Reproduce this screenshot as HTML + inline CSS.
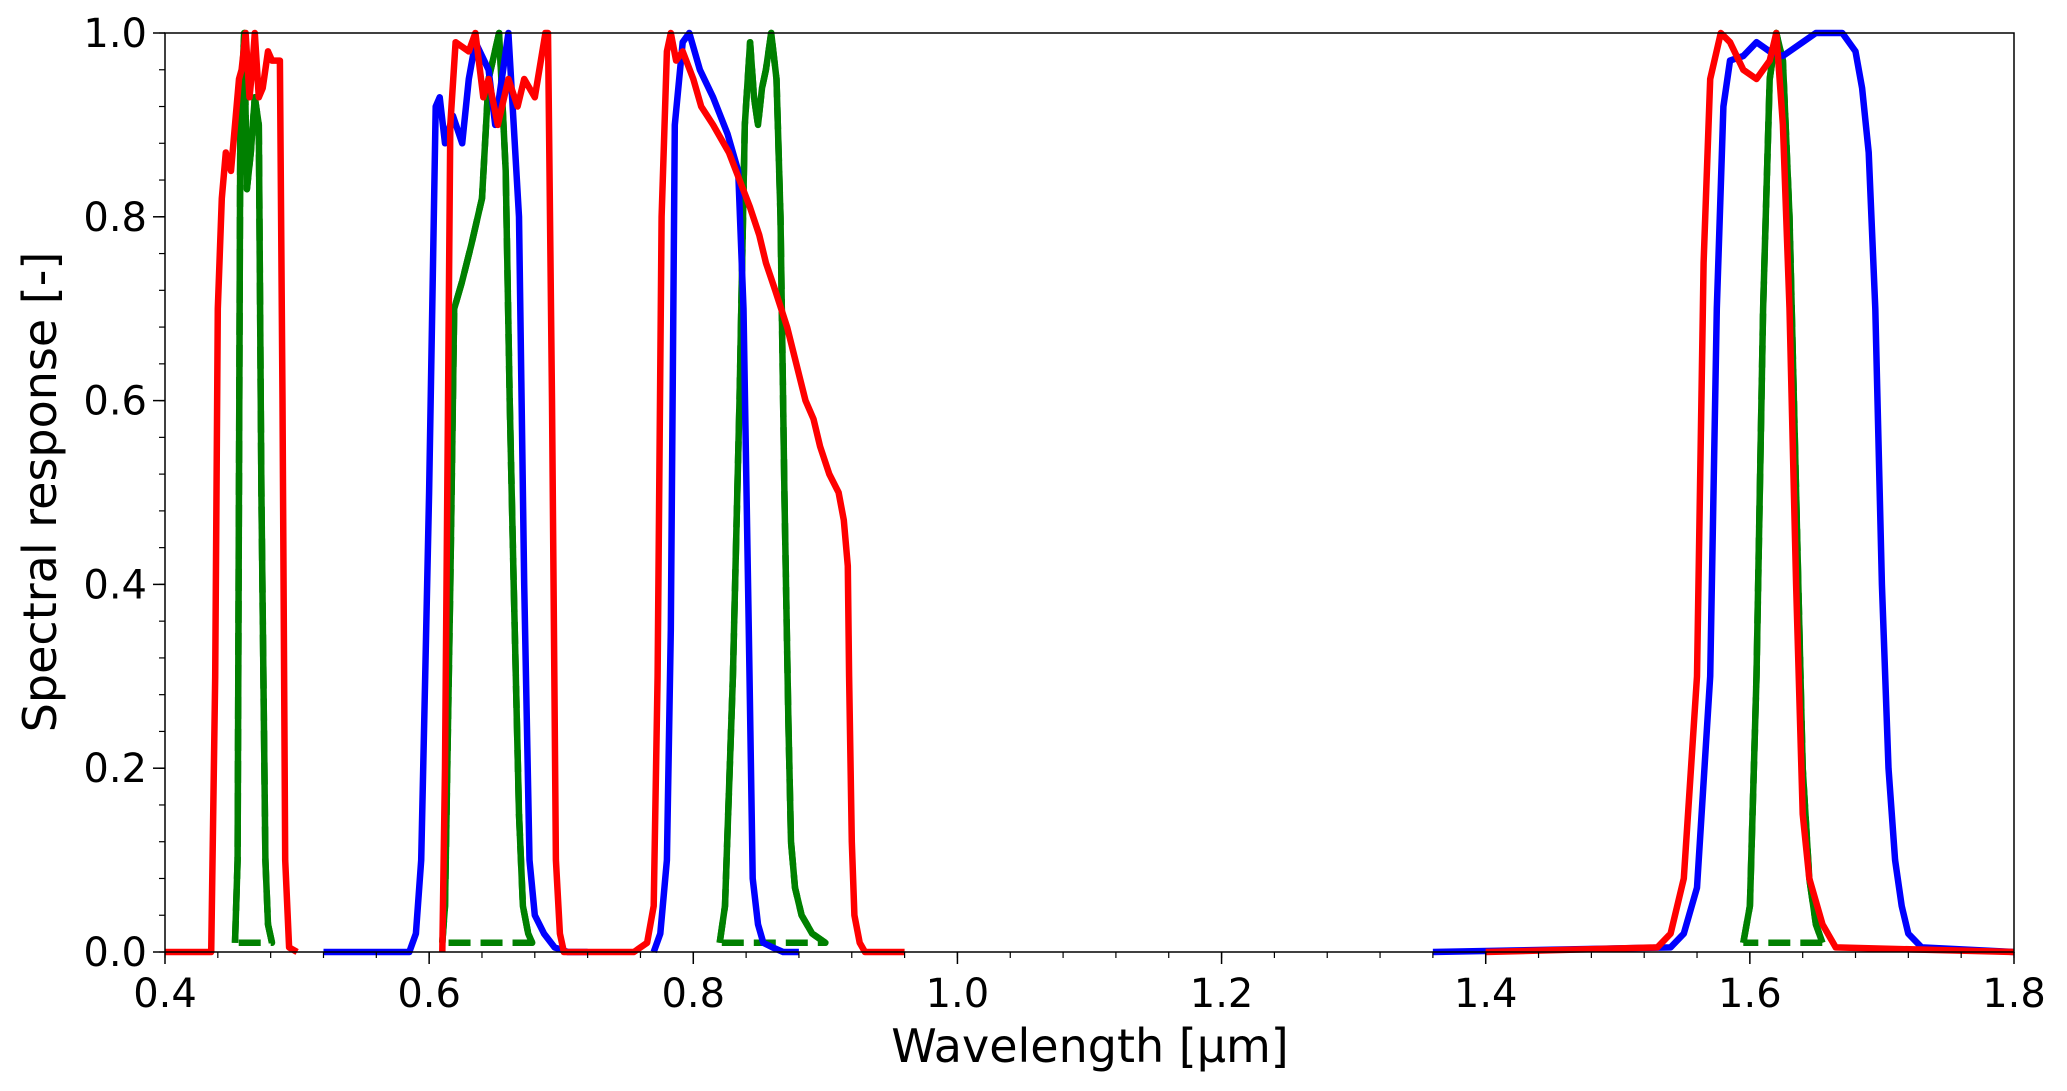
<!DOCTYPE html>
<html><head><meta charset="utf-8"><style>
html,body{margin:0;padding:0;background:#fff;}
svg{display:block;font-family:"DejaVu Sans","Liberation Sans",sans-serif;}
</style></head><body>
<svg id="chart" width="2067" height="1091" viewBox="0 0 2067 1091" xmlns="http://www.w3.org/2000/svg">
<g id="series"></g>
<rect x="165" y="33" width="1849" height="919" fill="none" stroke="#000" stroke-width="1.5"/>
<g id="axes"></g>
<text x="1090" y="1062" font-size="46" text-anchor="middle">Wavelength [µm]</text>
<text transform="translate(56,492) rotate(-90)" font-size="46" text-anchor="middle">Spectral response [-]</text>
</svg>
<script>
const xTicks=[0.4,0.6,0.8,1.0,1.2,1.4,1.6,1.8];
const xTickLabels=["0.4","0.6","0.8","1.0","1.2","1.4","1.6","1.8"];
const yTicks=[0,0.2,0.4,0.6,0.8,1.0];
const yTickLabels=["0.0","0.2","0.4","0.6","0.8","1.0"];
const blueW=[0.52,0.585,0.59,0.594,0.597,0.60,0.605,0.608,0.612,0.618,0.625,0.63,0.635,0.645,0.65,0.655,0.66,0.668,0.672,0.676,0.68,0.687,0.695,0.705,0.72,null,
0.77,0.775,0.78,0.783,0.786,0.792,0.797,0.805,0.815,0.826,0.834,0.838,0.842,0.845,0.849,0.853,0.86,0.868,0.88,null,
1.36,1.54,1.55,1.56,1.57,1.575,1.58,1.585,1.595,1.605,1.615,1.625,1.64,1.65,1.67,1.68,1.685,1.69,1.695,1.70,1.705,1.71,1.715,1.72,1.73,1.8];
const blueV=[0,0,0.02,0.1,0.3,0.5,0.92,0.93,0.88,0.91,0.88,0.95,0.99,0.96,0.9,0.95,1.0,0.8,0.4,0.1,0.04,0.02,0.005,0,0,null,
0,0.02,0.1,0.35,0.9,0.99,1.0,0.96,0.93,0.89,0.85,0.7,0.35,0.08,0.03,0.01,0.005,0,0,null,
0,0.005,0.02,0.07,0.3,0.7,0.92,0.97,0.975,0.99,0.98,0.975,0.99,1.0,1.0,0.98,0.94,0.87,0.7,0.4,0.2,0.1,0.05,0.02,0.005,0];
const redW=[0.4,0.435,0.438,0.44,0.443,0.446,0.45,0.453,0.456,0.458,0.461,0.464,0.466,0.468,0.471,0.474,0.478,0.481,0.484,0.487,0.489,0.491,0.494,0.5,null,
0.61,0.612,0.616,0.62,0.63,0.635,0.641,0.645,0.652,0.66,0.667,0.672,0.68,0.688,0.69,0.693,0.696,0.699,0.702,0.72,0.755,0.765,0.770,0.773,0.776,0.780,0.783,0.787,0.792,0.80,0.806,0.815,0.827,0.835,0.843,0.85,0.855,0.862,0.871,0.878,0.885,0.891,0.896,0.903,0.91,0.914,0.917,0.918,0.92,0.922,0.926,0.93,0.96,null,
1.40,1.53,1.54,1.55,1.56,1.565,1.57,1.578,1.585,1.595,1.605,1.615,1.62,1.625,1.63,1.635,1.64,1.645,1.655,1.665,1.8];
const redV=[0,0,0.3,0.7,0.82,0.87,0.85,0.9,0.95,0.96,1.0,0.93,0.96,1.0,0.93,0.94,0.98,0.97,0.97,0.97,0.6,0.1,0.005,0,null,
0,0.2,0.9,0.99,0.98,1.0,0.93,0.95,0.9,0.95,0.92,0.95,0.93,1.0,1.0,0.6,0.1,0.02,0,0,0,0.01,0.05,0.3,0.8,0.98,1.0,0.97,0.98,0.95,0.92,0.9,0.87,0.84,0.81,0.78,0.75,0.72,0.68,0.64,0.6,0.58,0.55,0.52,0.50,0.47,0.42,0.3,0.12,0.04,0.01,0,0,null,
0,0.005,0.02,0.08,0.3,0.75,0.95,1.0,0.99,0.96,0.95,0.97,1.0,0.9,0.7,0.4,0.15,0.08,0.03,0.005,0];
const greenW=[0.453,0.455,0.457,0.46,0.462,0.465,0.468,0.471,0.473,0.476,0.478,0.481,null,
0.61,0.612,0.616,0.619,0.625,0.632,0.64,0.645,0.653,0.658,0.661,0.664,0.668,0.671,0.675,0.678,null,
0.82,0.824,0.83,0.835,0.839,0.843,0.846,0.849,0.852,0.855,0.859,0.863,0.866,0.869,0.872,0.874,0.877,0.882,0.89,0.9,null,
1.595,1.6,1.605,1.61,1.615,1.62,1.625,1.63,1.635,1.64,1.645,1.65,1.655];
const greenV=[0.01,0.1,0.9,1.0,0.83,0.87,0.93,0.9,0.5,0.1,0.03,0.01,null,
0.01,0.05,0.4,0.7,0.73,0.77,0.82,0.95,1.0,0.85,0.6,0.4,0.15,0.05,0.02,0.01,null,
0.01,0.05,0.3,0.6,0.9,0.99,0.93,0.9,0.94,0.96,1.0,0.95,0.8,0.5,0.25,0.12,0.07,0.04,0.02,0.01,null,
0.01,0.05,0.3,0.7,0.95,1.0,0.97,0.8,0.5,0.2,0.08,0.03,0.01];
const X0=0.4,X1=1.8,Y0=0,Y1=1,L=165,R=2014,T=33,B=952;
function xs(w){return L+(w-X0)/(X1-X0)*(R-L);}
function ys(v){return B-(v-Y0)/(Y1-Y0)*(B-T);}
const NS="http://www.w3.org/2000/svg";
const series=document.getElementById('series');
const axes=document.getElementById('axes');
function mk(tag,attrs,parent){const e=document.createElementNS(NS,tag);for(const k in attrs)e.setAttribute(k,attrs[k]);parent.appendChild(e);return e;}
function pathFrom(W,V,close){let d='',start=null,last=null;
 for(let i=0;i<=W.length;i++){const w=W[i];
  if(i===W.length||w===null){if(close&&start&&last){d+=' L'+last[0]+' '+ys(0.01)+' L'+start[0]+' '+ys(0.01);}start=null;continue;}
  const p=[xs(w).toFixed(1),ys(V[i]).toFixed(1)];
  d+=(start?' L':' M')+p[0]+' '+p[1]; if(!start)start=p; last=p;}
 return d;}
function line(W,V,color,dash,name,close){
 const p=mk('path',{d:pathFrom(W,V,close),fill:'none',stroke:color,'stroke-width':6.5,'stroke-linejoin':'round'},series);
 if(dash)p.setAttribute('stroke-dasharray',dash);
 
 }
line(greenW,greenV,'#008000','22 10','green-dashed-series',true);
line(greenW,greenV,'#008000',null,'green-solid-series',false);
line(blueW,blueV,'#0000ff',null,'blue-series',false);
line(redW,redV,'#ff0000',null,'red-series',false);
for(let i=0;i<xTicks.length;i++){const x=xs(xTicks[i]);
 const t=mk('line',{x1:x,x2:x,y1:B,y2:B+12,stroke:'#000','stroke-width':1.5},axes);
 
 
 const lb=mk('text',{x:x,y:B+55,'font-size':40,'text-anchor':'middle'},axes);lb.textContent=xTickLabels[i];
 
 }
for(let w=X0;w<=X1+1e-9;w+=0.04){const x=xs(w);
 const t=mk('line',{x1:x,x2:x,y1:B,y2:B+6,stroke:'#000','stroke-width':1.2},axes);
 
 }
for(let i=0;i<yTicks.length;i++){const y=ys(yTicks[i]);
 const t=mk('line',{x1:L-12,x2:L,y1:y,y2:y,stroke:'#000','stroke-width':1.5},axes);
 
 
 const lb=mk('text',{x:L-18,y:y+14,'font-size':40,'text-anchor':'end'},axes);lb.textContent=yTickLabels[i];
 
 }
for(let v=Y0;v<=Y1+1e-9;v+=0.04){const y=ys(v);
 const t=mk('line',{x1:L-6,x2:L,y1:y,y2:y,stroke:'#000','stroke-width':1.2},axes);
 
 }
</script>
</body></html>
